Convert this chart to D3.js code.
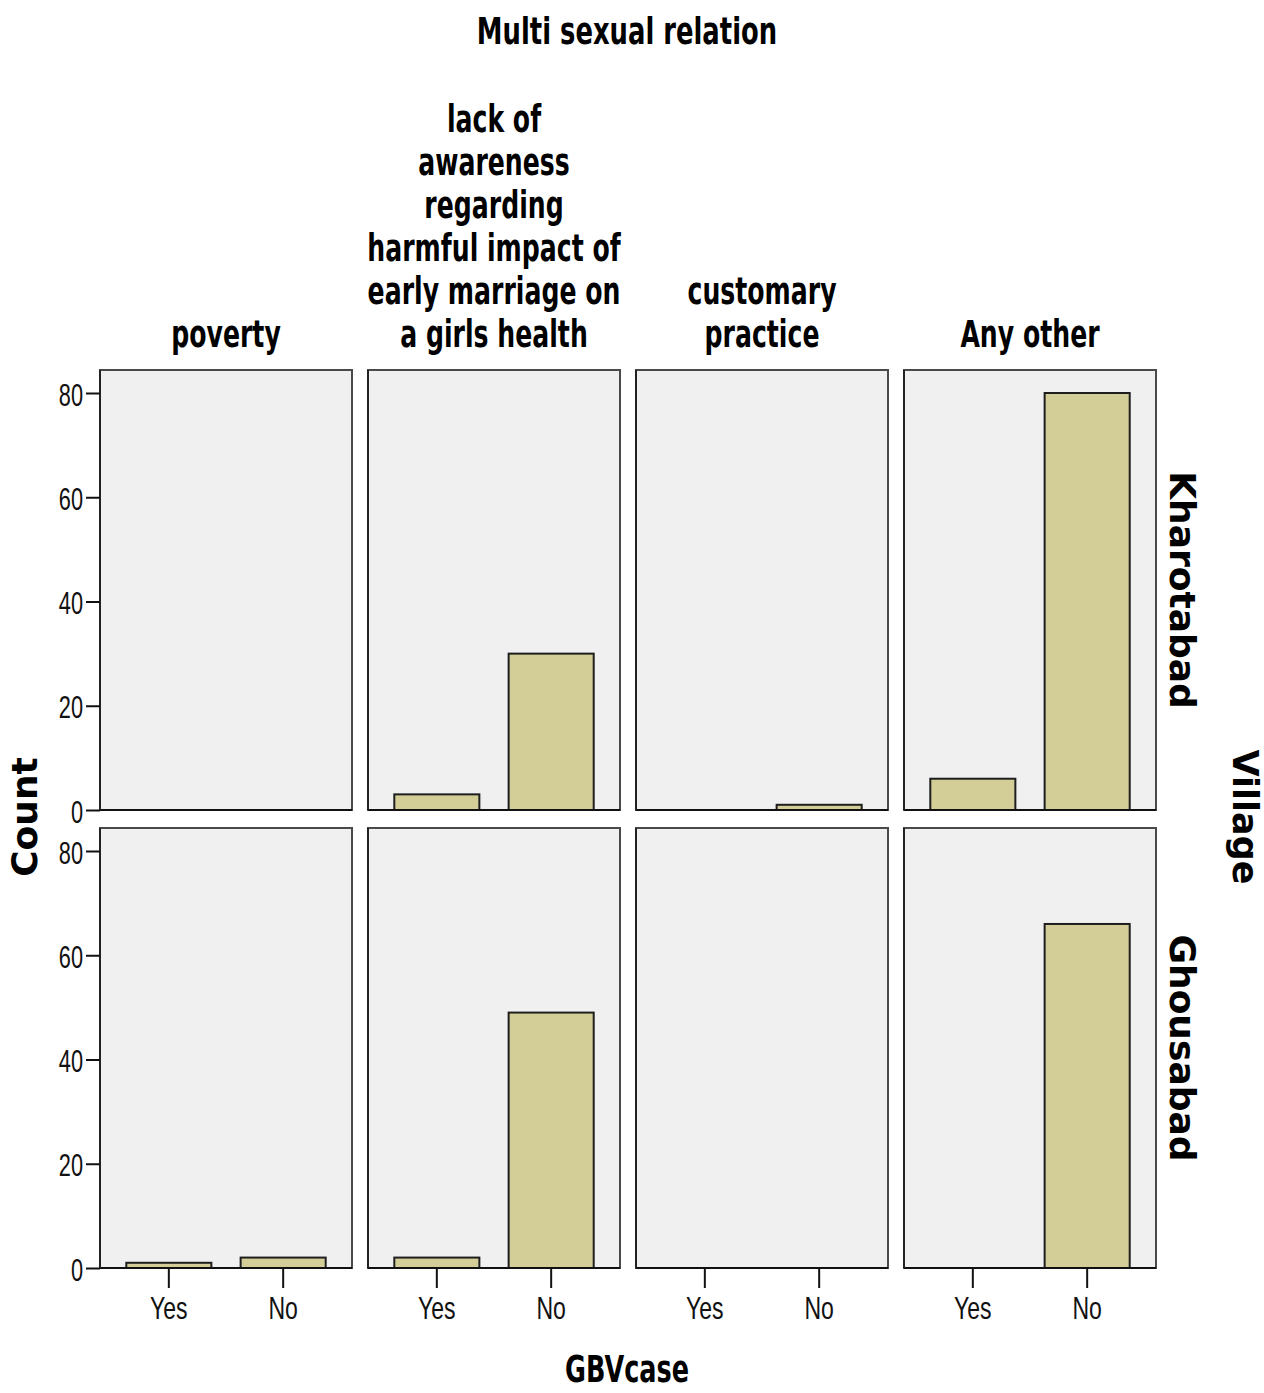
<!DOCTYPE html>
<html>
<head>
<meta charset="utf-8">
<script src="https://cdn.jsdelivr.net/npm/d3@7/dist/d3.min.js"></script>
<style>
  html, body { margin: 0; padding: 0; background: #ffffff; }
  svg { display: block; }
</style>
</head>
<body>
<script>
// ---- data ----
const reasons = ["poverty", "lack of awareness regarding harmful impact of early marriage on a girls health", "customary practice", "Any other"];
const reasonLines = [
  ["poverty"],
  ["lack of", "awareness", "regarding", "harmful impact of", "early marriage on", "a girls health"],
  ["customary", "practice"],
  ["Any other"]
];
const villages = ["Kharotabad", "Ghousabad"];
const gbvCategories = ["Yes", "No"];
const kharotabadCounts = [[0, 0], [3, 30], [0, 1], [6, 80]];
const ghousabadCounts = [[1, 2], [2, 49], [0, 0], [0, 66]];
const yTicks = [0, 20, 40, 60, 80];
const titleText = "Multi sexual relation";
const xAxisTitle = "GBVcase";
const yAxisTitle = "Count";
const rowTitle = "Village";

const countsByVillage = [kharotabadCounts, ghousabadCounts];

// ---- layout ----
const W = 1264, H = 1393;
const panelX0 = 100, panelW = 252, panelGap = 16;
const rowY0 = [370, 828], panelH = 440;

const svg = d3.select("body").append("svg").attr("width", W).attr("height", H);

const condensedBold = "'DejaVu Sans', sans-serif";
const tickFont = "'Liberation Sans', Arial, sans-serif";

function scaledText(g, x, y, txt, size, sx, weight, family) {
  const t = g.append("g").attr("transform", `translate(${x},${y}) scale(${sx},1)`);
  t.append("text")
    .attr("text-anchor", "middle")
    .attr("font-family", family)
    .attr("font-weight", weight)
    .attr("font-size", size)
    .attr("fill", "#000")
    .text(txt);
  return t;
}

// title
scaledText(svg, 627, 44, titleText, 38, 0.68, "bold", condensedBold);

const y = d3.scaleLinear().domain([0, panelH / 5.2125]).range([panelH, 0]);
const x = d3.scaleBand().domain(gbvCategories).range([0, panelW]).paddingInner(0.256).paddingOuter(0.23);

reasons.forEach((reason, c) => {
  const px = panelX0 + c * (panelW + panelGap);
  // column header
  const lines = reasonLines[c];
  const lastBaseline = 347, lineH = 43;
  lines.forEach((ln, i) => {
    scaledText(svg, px + panelW / 2, lastBaseline - (lines.length - 1 - i) * lineH, ln, 37, 0.68, "bold", condensedBold);
  });

  villages.forEach((village, r) => {
    const py = rowY0[r];
    const g = svg.append("g").attr("transform", `translate(${px},${py})`);
    g.append("rect")
      .attr("x", 0).attr("y", 0).attr("width", panelW).attr("height", panelH)
      .attr("fill", "#f0f0f0")
      .attr("stroke", "#4a4a4a").attr("stroke-width", 2);

    const data = gbvCategories.map((cat, k) => ({ cat, v: countsByVillage[r][c][k] })).filter(d => d.v > 0);
    g.selectAll("rect.bar").data(data).enter().append("rect")
      .attr("class", "bar")
      .attr("x", d => x(d.cat))
      .attr("y", d => y(d.v))
      .attr("width", x.bandwidth())
      .attr("height", d => y(0) - y(d.v))
      .attr("fill", "#d3ce97")
      .attr("stroke", "#1e1e1e").attr("stroke-width", 2);

    // bottom & left solid lines
    g.append("line").attr("x1", 0).attr("x2", panelW).attr("y1", panelH).attr("y2", panelH)
      .attr("stroke", "#111").attr("stroke-width", 2);
    g.append("line").attr("x1", 0).attr("x2", 0).attr("y1", 0).attr("y2", panelH)
      .attr("stroke", "#222").attr("stroke-width", 2);

    // y axis on first column
    if (c === 0) {
      const ya = g.append("g").call(d3.axisLeft(y).tickValues(yTicks).tickSize(14).tickPadding(3).tickFormat(d3.format("d")));
      ya.select(".domain").remove();
      ya.selectAll(".tick line").attr("stroke", "#111").attr("stroke-width", 2);
      ya.selectAll(".tick text").each(function () {
        const t = d3.select(this);
        const tx = +t.attr("x");
        t.attr("x", null).attr("dy", null)
          .attr("font-family", tickFont).attr("font-size", 32).attr("fill", "#111")
          .attr("text-anchor", "end")
          .attr("transform", `translate(${tx},12) scale(0.68,1)`);
      });
    }
    // x axis on bottom row
    if (r === villages.length - 1) {
      const xa = g.append("g").attr("transform", `translate(0,${panelH})`)
        .call(d3.axisBottom(x).tickSize(20).tickPadding(8));
      xa.select(".domain").remove();
      xa.selectAll(".tick line").attr("stroke", "#111").attr("stroke-width", 2);
      xa.selectAll(".tick text").each(function () {
        const t = d3.select(this);
        t.attr("y", null).attr("dy", null)
          .attr("font-family", tickFont).attr("font-size", 32).attr("fill", "#111")
          .attr("transform", `translate(0,51) scale(0.72,1)`);
      });
    }
  });
});

// row labels (right side)
villages.forEach((village, r) => {
  svg.append("text")
    .attr("transform", `translate(1170,${rowY0[r] + panelH / 2}) rotate(90)`)
    .attr("text-anchor", "middle")
    .attr("font-family", "'DejaVu Sans', sans-serif")
    .attr("font-weight", "bold").attr("font-size", 36)
    .attr("fill", "#000")
    .text(village);
});

svg.append("text")
  .attr("transform", `translate(1233,817) rotate(90)`)
  .attr("text-anchor", "middle")
  .attr("font-family", "'DejaVu Sans', sans-serif")
  .attr("font-weight", "bold").attr("font-size", 35)
  .attr("fill", "#000")
  .text(rowTitle);

svg.append("text")
  .attr("transform", `translate(37,817) rotate(-90)`)
  .attr("text-anchor", "middle")
  .attr("font-family", "'DejaVu Sans', sans-serif")
  .attr("font-weight", "bold").attr("font-size", 36)
  .attr("fill", "#000")
  .text(yAxisTitle);

scaledText(svg, 627, 1382, xAxisTitle, 37, 0.69, "bold", condensedBold);
</script>
</body>
</html>
